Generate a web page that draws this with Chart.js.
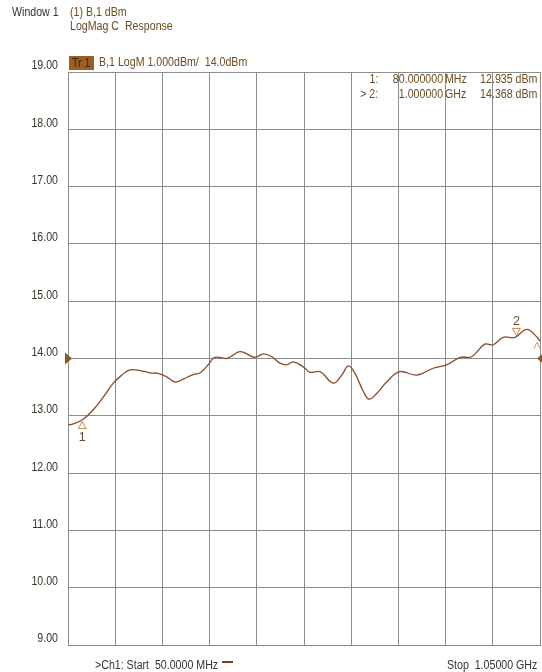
<!DOCTYPE html>
<html>
<head>
<meta charset="utf-8">
<script src="https://cdn.jsdelivr.net/npm/chart.js@4"></script>
<style>
  body { margin: 0; background: #fff; }
  #wrap { position: relative; width: 542px; height: 672px; font-family: "Liberation Sans", Arial, sans-serif; font-size: 12.5px; }
  #wrap canvas { position: absolute; left: 0; top: 0; }
  .t { position: absolute; line-height: 14px; white-space: pre; transform: scaleX(0.85); transform-origin: left center; }
  .r { transform-origin: right center; }
  .brown { color: #6e4a22; }
  .dark { color: #333; }
</style>
</head>
<body>
<div id="wrap">
  <canvas id="vna" width="542" height="672"></canvas>
  <div class="t dark" style="left:12px;top:5px">Window 1</div>
  <div class="t brown" style="left:70px;top:5px">(1) B,1 dBm</div>
  <div class="t brown" style="left:70px;top:19px">LogMag C  Response</div>
  <div style="position:absolute;left:69px;top:56px;width:25px;height:14px;background:#9c5e22"></div>
  <div class="t" style="left:72px;top:56px;color:#3b2410">Tr 1</div>
  <div class="t brown" style="left:99px;top:55px">B,1 LogM 1.000dBm/  14.0dBm</div>

  <div class="t r brown" style="right:164px;top:72px">1:</div>
  <div class="t r brown" style="right:99px;top:72px">80.000000</div>
  <div class="t brown" style="left:445px;top:72px">MHz</div>
  <div class="t r brown" style="right:5px;top:72px">12.935 dBm</div>
  <div class="t r brown" style="right:164px;top:87px">&gt; 2:</div>
  <div class="t r brown" style="right:99px;top:87px">1.000000</div>
  <div class="t brown" style="left:445px;top:87px">GHz</div>
  <div class="t r brown" style="right:5px;top:87px">14.368 dBm</div>

  <div class="t dark" style="left:95px;top:658px">&gt;Ch1: Start  50.0000 MHz</div>
  <div style="position:absolute;left:222px;top:661px;width:11px;height:2px;background:#8a3a1e"></div>
  <div class="t r dark" style="right:5px;top:658px">Stop  1.05000 GHz</div>
</div>
<script>
// trace (MHz, dBm)
const freqMHz = [50, 61, 82, 104, 125, 146, 164, 181, 203, 224, 241, 259, 277, 294, 315, 330, 347, 361,
  386, 400, 414, 429, 446, 464, 482, 499, 513, 527, 549, 563, 584, 612, 630, 644, 658, 676, 688, 704,
  725, 753, 789, 824, 852, 881, 905, 933, 951, 972, 997, 1022, 1043, 1050];
const levelDbm = [12.84, 12.86, 12.94, 13.11, 13.33, 13.57, 13.71, 13.80, 13.79, 13.75, 13.74, 13.68, 13.59, 13.64, 13.72, 13.75, 13.89, 14.02,
  14.00, 14.06, 14.12, 14.08, 14.02, 14.08, 14.03, 13.92, 13.89, 13.94, 13.85, 13.76, 13.77, 13.57, 13.71, 13.87, 13.74, 13.42, 13.29, 13.39,
  13.59, 13.77, 13.71, 13.83, 13.89, 14.02, 14.03, 14.25, 14.24, 14.37, 14.37, 14.51, 14.38, 14.30];

const markerNames = ['1', '2'];
const markerFreq = [80, 1000];
const markerLevel = [12.935, 14.368];
const refLevel = 14.0;

const traceColor = '#8a4a2a';
const gridColor = '#8c8c8c';
const fontFamily = '"Liberation Sans", Arial, sans-serif';

// condensed y labels, placed by the y scale
const yLabelsPlugin = {
  id: 'yLabels',
  afterDraw(chart) {
    const ctx = chart.ctx;
    const ys = chart.scales.y;
    ctx.save();
    ctx.font = '12.5px ' + fontFamily;
    ctx.fillStyle = '#3a3328';
    ctx.textAlign = 'right';
    ctx.textBaseline = 'middle';
    ys.ticks.forEach(t => {
      const y = ys.getPixelForValue(t.value) - 6;
      ctx.save();
      ctx.translate(58, y);
      ctx.scale(0.85, 1);
      ctx.fillText(t.value.toFixed(2), 0, 0);
      ctx.restore();
    });
    ctx.restore();
  }
};

const markersPlugin = {
  id: 'markers',
  afterDatasetsDraw(chart) {
    const ctx = chart.ctx;
    const xs = chart.scales.x, ys = chart.scales.y;
    const area = chart.chartArea;
    ctx.save();
    // reference level arrows
    const ry = ys.getPixelForValue(refLevel);
    ctx.fillStyle = '#8b5a22';
    ctx.beginPath();
    ctx.moveTo(area.left - 3, ry - 6); ctx.lineTo(area.left + 4, ry); ctx.lineTo(area.left - 3, ry + 6);
    ctx.fill();
    ctx.beginPath();
    ctx.moveTo(area.right + 4, ry - 6); ctx.lineTo(area.right - 3, ry); ctx.lineTo(area.right + 4, ry + 6);
    ctx.fill();

    // small stop caret under the end of the trace
    const last = freqMHz.length - 1;
    const cx = xs.getPixelForValue(freqMHz[last]) - 3;
    const cy = ys.getPixelForValue(levelDbm[last]) + 1;
    ctx.strokeStyle = '#d09050';
    ctx.lineWidth = 1;
    ctx.beginPath();
    ctx.moveTo(cx - 3, cy + 6); ctx.lineTo(cx, cy); ctx.lineTo(cx + 3, cy + 6);
    ctx.stroke();

    ctx.strokeStyle = '#c08a4a';
    ctx.fillStyle = '#fff8ec';
    ctx.font = '12.5px ' + fontFamily;
    ctx.textAlign = 'center';
    ctx.textBaseline = 'middle';
    markerFreq.forEach((f, i) => {
      const px = xs.getPixelForValue(f);
      const py = ys.getPixelForValue(markerLevel[i]);
      ctx.beginPath();
      if (i === 0) {
        ctx.moveTo(px, py + 2); ctx.lineTo(px - 4, py + 9); ctx.lineTo(px + 4, py + 9);
      } else {
        ctx.moveTo(px, py - 2); ctx.lineTo(px - 4, py - 9); ctx.lineTo(px + 4, py - 9);
      }
      ctx.closePath();
      ctx.fill(); ctx.stroke();
      ctx.fillStyle = '#6e4a22';
      ctx.fillText(markerNames[i], px, i === 0 ? py + 18 : py - 16);
      ctx.fillStyle = '#fff8ec';
    });
    ctx.restore();
  }
};

new Chart(document.getElementById('vna'), {
  type: 'line',
  data: {
    datasets: [{
      data: freqMHz.map((f, i) => ({ x: f, y: levelDbm[i] })),
      borderColor: traceColor,
      borderWidth: 1.3,
      pointRadius: 0,
      tension: 0.4,
      fill: false
    }]
  },
  options: {
    responsive: false,
    animation: false,
    layout: { padding: { top: 72, right: 2, bottom: 27, left: 0 } },
    plugins: { legend: { display: false }, tooltip: { enabled: false } },
    scales: {
      x: {
        type: 'linear', min: 50, max: 1050,
        ticks: { display: false, stepSize: 100 },
        grid: { color: gridColor, lineWidth: 1, drawTicks: false },
        border: { color: gridColor }
      },
      y: {
        min: 9, max: 19,
        ticks: { display: false, stepSize: 1 },
        grid: { color: gridColor, lineWidth: 1, drawTicks: false },
        border: { color: gridColor },
        afterFit(scale) { scale.width = 68; }
      }
    }
  },
  plugins: [markersPlugin, yLabelsPlugin]
});
</script>
</body>
</html>
